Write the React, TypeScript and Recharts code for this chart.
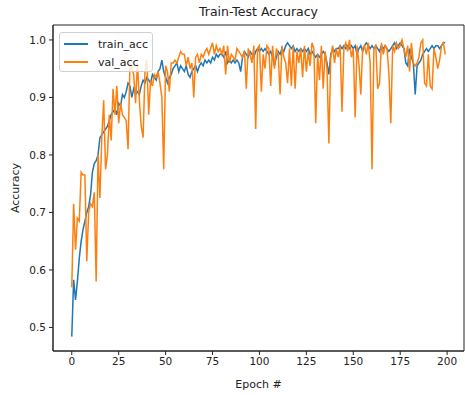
import { LineChart, Line, XAxis, YAxis, ReferenceArea } from 'recharts';

const trainAcc = [
  0.484, 0.583, 0.548, 0.58, 0.62, 0.65, 0.67, 0.685, 0.7, 0.71,
  0.73, 0.77, 0.785, 0.79, 0.8, 0.83, 0.835, 0.84, 0.845, 0.85,
  0.86, 0.87, 0.875, 0.88, 0.87, 0.89, 0.885, 0.905, 0.9, 0.91,
  0.925, 0.92, 0.9, 0.915, 0.905, 0.91, 0.905, 0.92, 0.93, 0.925,
  0.935, 0.93, 0.925, 0.94, 0.935, 0.93, 0.945, 0.95, 0.965, 0.945,
  0.935, 0.925, 0.935, 0.94, 0.95, 0.955, 0.96, 0.945, 0.955, 0.95,
  0.945, 0.955, 0.94, 0.935, 0.945, 0.95, 0.955, 0.945, 0.955, 0.96,
  0.955, 0.965, 0.96, 0.965, 0.96, 0.97, 0.965, 0.975, 0.97, 0.975,
  0.975, 0.97, 0.98, 0.96, 0.965, 0.96, 0.965, 0.96, 0.965, 0.96,
  0.945, 0.97, 0.98, 0.975, 0.97, 0.98, 0.975, 0.97, 0.98, 0.985,
  0.98, 0.985, 0.98, 0.985, 0.98, 0.975, 0.98, 0.97, 0.955, 0.97,
  0.98, 0.975, 0.985, 0.98, 0.99, 0.995, 0.99, 0.985, 0.99, 0.98,
  0.985, 0.98, 0.985, 0.98, 0.985, 0.98, 0.985, 0.975, 0.98, 0.975,
  0.97, 0.975, 0.97, 0.975, 0.98, 0.975, 0.96, 0.94, 0.975, 0.985,
  0.98, 0.985, 0.985, 0.99, 0.985, 0.99, 0.985, 0.99, 0.985, 0.99,
  0.985, 0.99, 0.975, 0.985, 0.99, 0.98, 0.99, 0.995, 0.99, 0.985,
  0.99, 0.985, 0.99, 0.985, 0.98, 0.99, 0.985, 0.99, 0.985, 0.98,
  0.985, 0.99, 0.995, 0.985, 0.99, 0.995, 0.99, 0.985, 0.96, 0.955,
  0.985, 0.97, 0.96, 0.905, 0.955, 0.96, 0.965, 0.975, 0.98, 0.985,
  0.98, 0.985, 0.99, 0.985, 0.99, 0.99, 0.985, 0.99, 0.995, 0.995,
];

const valAcc = [
  0.57, 0.715, 0.635, 0.69, 0.685, 0.77, 0.765, 0.765, 0.615, 0.7,
  0.715, 0.71, 0.735, 0.58, 0.8, 0.725, 0.83, 0.895, 0.775, 0.8,
  0.87, 0.825, 0.915, 0.87, 0.92, 0.855, 0.89, 0.87, 0.865, 0.86,
  0.81, 0.96, 0.95, 0.94, 0.89, 0.96, 0.895, 0.85, 0.83, 0.945,
  0.965, 0.87, 0.93, 0.92, 0.94, 0.935, 0.945, 0.925, 0.9, 0.775,
  0.955, 0.945, 0.91, 0.96, 0.96, 0.965, 0.96, 0.97, 0.98, 0.975,
  0.975, 0.955, 0.97, 0.95, 0.96, 0.9, 0.97, 0.975, 0.96, 0.975,
  0.97, 0.98, 0.985, 0.975, 0.985, 0.995, 0.975, 0.99, 0.98, 0.985,
  0.975, 0.99, 0.94, 0.99, 0.96, 0.975, 0.97, 0.965, 0.985, 0.98,
  0.975, 0.97, 0.98, 0.915, 0.985, 0.975, 0.96, 0.99, 0.845, 0.985,
  0.99, 0.91, 0.975, 0.95, 0.99, 0.985, 0.92, 0.99, 0.95, 0.985,
  0.975, 0.905, 0.99, 0.97, 0.96, 0.925, 0.985, 0.92, 0.99, 0.915,
  0.98, 0.96, 0.985, 0.935, 0.99, 0.945, 0.98, 0.955, 0.995, 0.985,
  0.855, 0.975, 0.93, 0.99, 0.915, 0.98, 0.95, 0.82, 0.97, 0.99,
  0.96, 0.985, 0.97, 0.99, 0.875, 0.985, 0.995, 0.98, 1.0, 0.97,
  0.985, 0.865, 0.99, 0.96, 0.905, 0.985, 0.99, 0.975, 0.995, 0.96,
  0.775, 0.985, 0.99, 0.915, 0.925, 0.995, 0.975, 0.99, 0.985, 0.94,
  0.855, 0.99, 0.98, 0.995, 0.985, 0.99, 1.0, 0.985, 0.97, 0.99,
  0.945, 0.995, 0.96, 0.955, 0.96, 0.97, 0.995, 1.0, 0.925, 0.92,
  0.975, 0.92, 0.915, 0.985, 0.97, 0.95, 0.965, 0.99, 0.995, 0.975,
];

const xTicks = [0, 25, 50, 75, 100, 125, 150, 175, 200];
const yTicks = [0.5, 0.6, 0.7, 0.8, 0.9, 1.0];

const series = [
  { key: 'train_acc', color: '#1f77b4' },
  { key: 'val_acc', color: '#ff7f0e' },
];

const data = trainAcc.map((t, i) => ({ epoch: i, train_acc: t, val_acc: valAcc[i] }));

const FONT = '"DejaVu Sans", sans-serif';
const X_DOMAIN = [-10, 209];
const Y_DOMAIN = [0.459, 1.026];

// legend drawn as plain html so it doesn't eat into the plot area
function LegendBox() {
  return (
    <div
      style={{
        position: 'absolute',
        left: 59,
        top: 32,
        width: 94,
        height: 40,
        boxSizing: 'border-box',
        border: '1px solid #d0d0d0',
        borderRadius: 3,
        background: 'rgba(255,255,255,0.8)',
        padding: '2px 4px',
        fontFamily: FONT,
        fontSize: 11,
        color: '#222',
        zIndex: 2,
      }}
    >
      {series.map((s) => (
        <div key={s.key} style={{ display: 'flex', alignItems: 'center', height: 18 }}>
          <div style={{ width: 24, height: 2, background: s.color, marginRight: 10 }} />
          <span>{s.key}</span>
        </div>
      ))}
    </div>
  );
}

export default function App() {
  return (
    <div style={{ position: 'absolute', left: 0, top: 0, width: 465, height: 395, background: '#fff' }}>
      <div
        style={{
          position: 'absolute',
          top: 4,
          left: 53,
          width: 411,
          textAlign: 'center',
          fontFamily: FONT,
          fontSize: 12.5,
          color: '#222',
        }}
      >
        Train-Test Accuracy
      </div>
      <LineChart width={465} height={395} data={data} margin={{ top: 25, right: 1, bottom: 0, left: 0 }}>
        <XAxis
          dataKey="epoch"
          type="number"
          domain={X_DOMAIN}
          ticks={xTicks}
          allowDataOverflow
          height={44}
          tickSize={4}
          tickMargin={3}
          stroke="#222"
          tick={{ fill: '#222', fontSize: 10.5, fontFamily: FONT }}
          label={{ value: 'Epoch #', position: 'insideBottom', offset: 7, fill: '#222', fontSize: 11, fontFamily: FONT }}
        />
        <YAxis
          type="number"
          domain={Y_DOMAIN}
          ticks={yTicks}
          allowDataOverflow
          width={53}
          tickSize={4}
          tickMargin={3}
          stroke="#222"
          tickFormatter={(v: number) => v.toFixed(1)}
          tick={{ fill: '#222', fontSize: 10.5, fontFamily: FONT }}
          label={{
            value: 'Accuracy',
            angle: -90,
            position: 'insideLeft',
            offset: 15,
            fill: '#222',
            fontSize: 11,
            fontFamily: FONT,
            style: { textAnchor: 'middle' },
          }}
        />
        <ReferenceArea
          x1={X_DOMAIN[0]}
          x2={X_DOMAIN[1]}
          y1={Y_DOMAIN[0]}
          y2={Y_DOMAIN[1]}
          fill="none"
          stroke="#222"
          strokeWidth={1}
        />
        {series.map((s) => (
          <Line
            key={s.key}
            type="linear"
            dataKey={s.key}
            stroke={s.color}
            strokeWidth={1.5}
            dot={false}
            isAnimationActive={false}
          />
        ))}
      </LineChart>
      <LegendBox />
    </div>
  );
}
